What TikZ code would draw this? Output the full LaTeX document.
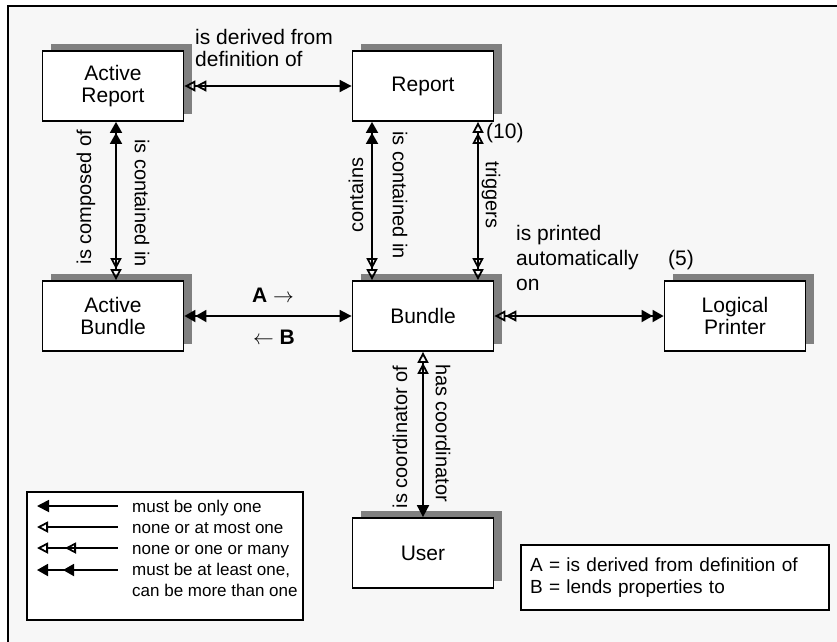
\documentclass[tikz,border=0pt]{standalone}
\usepackage{fontspec}
\setmainfont{Liberation Sans}
\usetikzlibrary{arrows.meta,shadows}
\definecolor{bggray}{HTML}{F7F7F7}
\definecolor{shadowgray}{HTML}{808080}
\tikzset{
  onlyone/.tip={Triangle[length=12pt,width=12pt]},
  zeromany/.tip={Triangle[open,length=11pt,width=11pt,sep=0pt] Triangle[open,length=11pt,width=11pt,sep=0pt]},
  onemany/.tip={Triangle[length=11pt,width=12pt,sep=0pt] Triangle[length=11pt,width=12pt,sep=0pt]},
  atmostone/.tip={Triangle[open,length=11pt,width=11pt]},
  zeromanykey/.tip={Triangle[open,length=11pt,width=11pt,sep=17pt] Triangle[open,length=11pt,width=11pt,sep=0pt]},
  onemanykey/.tip={Triangle[length=11pt,width=12pt,sep=15pt] Triangle[length=11pt,width=12pt,sep=0pt]},
  entity/.style={draw, line width=1.8pt, fill=white, minimum width=141pt, minimum height=70pt,
    align=center, font=\fontsize{21}{22}\selectfont,
    drop shadow={shadow xshift=8pt, shadow yshift=7pt, fill=shadowgray, opacity=1}},
  rel/.style={line width=1.8pt},
  lbl/.style={font=\fontsize{21}{22}\selectfont, inner sep=0pt},
  vlbl/.style={font=\fontsize{20}{22}\selectfont, inner sep=0pt},
  keytxt/.style={font=\fontsize{17}{21}\selectfont, inner sep=0pt},
  keybox/.style={draw, line width=1.6pt, fill=white, inner sep=0pt},
}
\begin{document}
\begin{tikzpicture}[x=1pt,y=-1pt]
  \useasboundingbox (0,0) rectangle (837,641);
  \clip (0,0) rectangle (837,641);
  \fill[white] (0,0) rectangle (837,641);
  \draw[line width=1.5pt, fill=bggray] (8,6) rectangle (850,660);

  % entities
  \node (actrep) [entity] at (113,86) {Active\\Report};
  \node (report) [entity] at (423,86) {Report};
  \node (actbun) [entity] at (113,316) {Active\\Bundle};
  \node (bundle) [entity] at (423,316) {Bundle};
  \node (lprinter) [entity] at (735,316) {Logical\\Printer};
  \node (user) [entity] at (423,553) {User};

  % relationships
  \draw [rel, {zeromany}-{onlyone}] (actrep.east) -- (report.west);
  \draw [rel, {onemany}-{zeromany}] ([xshift=3pt]actrep.south) -- ([xshift=3pt]actbun.north);
  \draw [rel, {onemany}-{zeromany}] ([xshift=-51pt]report.south) -- ([xshift=-51pt]bundle.north);
  \draw [rel, {zeromany}-{zeromany}] ([xshift=55pt]report.south) -- ([xshift=55pt]bundle.north);
  \draw [rel, {onemany}-{onlyone}] (actbun.east) -- (bundle.west);
  \draw [rel, {zeromany}-{onemany}] (bundle.east) -- (lprinter.west);
  \draw [rel, {zeromany}-{onlyone}] (bundle.south) -- (user.north);

  % labels
  \node (lblderived) [lbl, anchor=north west, align=left] at (195,29) {is derived from\\definition of};
  \node (lblcomposed) [vlbl, rotate=90] at (86,197) {is composed of};
  \node (lblinar) [vlbl, rotate=-90] at (142,203) {is contained in};
  \node (lblcontains) [vlbl, rotate=90] at (356,195) {contains};
  \node (lblinrep) [vlbl, rotate=-90] at (400,195) {is contained in};
  \node (lbltriggers) [vlbl, rotate=-90] at (491,195) {triggers};
  \node (lblten) [lbl, anchor=west] at (486,133) {(10)};
  \node (lblprinted) [lbl, anchor=north west, align=left, font=\fontsize{21}{25}\selectfont] at (516,225) {is printed\\automatically\\on};
  \node (lblfive) [lbl, anchor=base west] at (668,265) {(5)};
  \node (lbla) [lbl] at (273,295) {\textbf{A} $\rightarrow$};
  \node (lblb) [lbl] at (274,337) {$\leftarrow$ \textbf{B}};
  \node (lblcoord) [vlbl, rotate=90] at (400,437) {is coordinator of};
  \node (lblhas) [vlbl, rotate=-90] at (443,433) {has coordinator};

  % legend
  \node (legend) [keybox, minimum width=276pt, minimum height=128pt] at (165,556) {};
  \foreach \i/\y in {1/506,2/527,3/548,4/570} {
    \coordinate (ls\i) at (37,\y);
    \coordinate (le\i) at (118,\y);
  }
  \draw [rel, {onlyone}-] (ls1) -- (le1);
  \draw [rel, {atmostone}-] (ls2) -- (le2);
  \draw [rel, {zeromanykey}-] (ls3) -- (le3);
  \draw [rel, {onemanykey}-] (ls4) -- (le4);
  \node (keyone) [keytxt, anchor=base west] at (132,512) {must be only one};
  \node (keyatmost) [keytxt, anchor=base west] at (132,533) {none or at most one};
  \node (keymany) [keytxt, anchor=base west] at (132,554) {none or one or many};
  \node (keyatleast) [keytxt, anchor=north west, align=left] at (132,563) {must be at least one,\\can be more than one};

  \node (abkey) [keybox, keytxt, font=\fontsize{19}{22}\selectfont, minimum width=308pt, minimum height=65pt,
    text width=290pt, inner xsep=9pt, align=left] at (675,577.5) {A = is derived from definition of\\B = lends properties to};
\end{tikzpicture}
\end{document}
